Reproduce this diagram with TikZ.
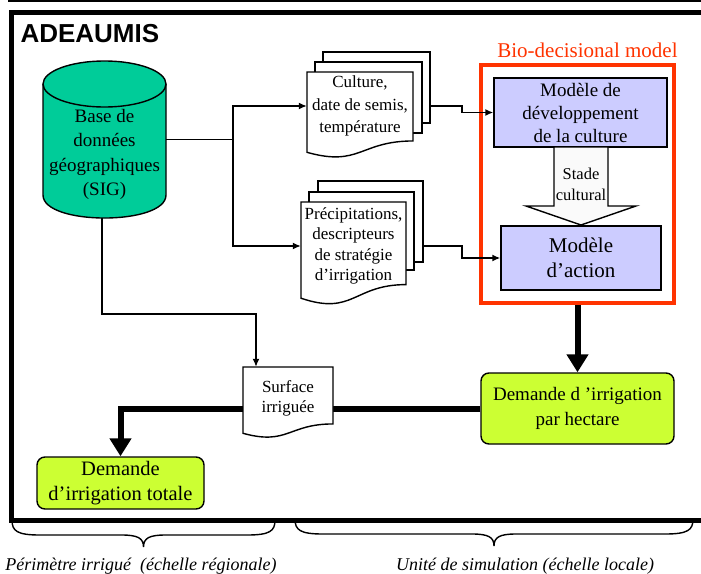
\documentclass[tikz,border=0pt]{standalone}
\usepackage{fontspec}
\setmainfont{Liberation Serif}
\setsansfont{Liberation Sans}
\usetikzlibrary{arrows.meta}
\definecolor{sigGreen}{HTML}{00CC99}
\definecolor{modelBlue}{HTML}{CCCCFF}
\definecolor{demandLime}{HTML}{CCFF33}
\definecolor{bioRed}{HTML}{FF3300}
\def\fs#1#2{\fontsize{#1}{#2}\selectfont}
% document sheet with wavy bottom: (x,y)(w,h)
\def\docpage(#1,#2)(#3,#4){\draw[fill=white, line width=1.4pt] (#1,#2) -- ({#1+#3},#2) -- ({#1+#3},{#2+0.802*#4}) .. controls ({#1+0.5*#3},{#2+0.802*#4}) and ({#1+0.5*#3},{#2+1.107*#4}) .. (#1,{#2+0.934*#4}) -- cycle;}
\def\sheet(#1,#2)(#3,#4){\draw[fill=white, line width=1.4pt] (#1,#2) rectangle (#3,#4);}
% wide brace under the frame: (left x, right x, top y)
\def\curlybrace(#1,#2,#3){\pgfmathsetmacro\bracemid{(#1+#2)/2}\draw[line width=1.4pt] (#1,#3) .. controls (#1,{#3+11}) and ({#1+5},{#3+15}) .. ({#1+28},{#3+15}) -- ({\bracemid-22},{#3+15}) .. controls ({\bracemid-6},{#3+15}) and (\bracemid,{#3+18}) .. (\bracemid,{#3+27}) .. controls (\bracemid,{#3+18}) and ({\bracemid+6},{#3+15}) .. ({\bracemid+22},{#3+15}) -- ({#2-28},{#3+15}) .. controls ({#2-5},{#3+15}) and (#2,{#3+11}) .. (#2,#3);}
\tikzset{
	model/.style={draw, fill=modelBlue, line width=1.4pt, align=center, inner sep=0pt},
	demand/.style={draw, fill=demandLime, line width=1.4pt, rounded corners=8pt, align=center, inner sep=0pt},
	doctext/.style={align=center, inner sep=0pt},
	conn/.style={line width=1.5pt, -{Latex[length=8pt,width=7pt]}},
	thickconn/.style={line width=6pt, -{Triangle[length=18pt,width=21pt]}},
}

\begin{document}
\begin{tikzpicture}[x=1pt, y=-1pt]
			%%%%% START %%%%%
			\useasboundingbox (0,0) rectangle (701,573);
			
			\draw[line width=1.5pt] (8,1) -- (705,1);
			\draw[line width=5pt] (705,12.5) -- (11,12.5) -- (11,520) -- (705,520);
			\node[anchor=west, font=\sffamily\bfseries\fs{26}{28}] (title) at (17,34) {ADEAUMIS};
			
			% SIG cylinder
			\draw[fill=sigGreen, line width=1.4pt] (43,84) -- (43,195) .. controls (43,225.7) and (166,225.7) .. (166,195) -- (166,84);
			\draw[fill=sigGreen, line width=1.4pt] (104.5,84) ellipse [x radius=61.5pt, y radius=23pt];
			\node[doctext, minimum width=123pt, minimum height=127pt, font=\fs{19}{24.5}] (sig) at (104.5,154.5) {Base de\\données\\géographiques\\(SIG)};
			
			% input sheets
			\sheet(323,52)(430,123)
			\sheet(315,62)(422,133)
			\docpage(307,72)(106,86)
			\node[doctext, minimum width=106pt, minimum height=60pt, font=\fs{17}{22.5}] (cult) at (360,106) {Culture,\\date de semis,\\température};
			
			\sheet(318,181)(423,262)
			\sheet(309,192)(414,270)
			\docpage(301,202)(105,103)
			\node[doctext, minimum width=105pt, minimum height=70pt, font=\fs{17}{20.5}] (prec) at (353.5,246) {Précipitations,\\descripteurs\\de stratégie\\d’irrigation};
			
			% bio-decisional model
			\node[draw=bioRed, line width=3.5pt, minimum width=193pt, minimum height=238pt] (bio) at (577.5,184) {};
			\node[text=bioRed, font=\fs{21}{24}] (biolbl) at (587.5,50) {Bio-decisional model};
			\node[model, minimum width=173pt, minimum height=69pt, font=\fs{19}{23}] (dev) at (580.5,112.5) {Modèle de\\développement\\de la culture};
			\node[model, minimum width=160pt, minimum height=64pt, font=\fs{21}{25}] (act) at (581,258) {Modèle\\d’action};
			\draw[fill=black!2, line width=1.4pt] (554,147) -- (608,147) -- (608,206) -- (636,206) -- (581,225) -- (526,206) -- (554,206) -- cycle;
			\node[doctext, font=\fs{16.5}{21}] (stade) at (581,184) {Stade\\cultural};
			
			% demands
			\node[demand, minimum width=193pt, minimum height=71pt, font=\fs{19}{25}] (dh) at (577.5,408.5) {Demande d ’irrigation\\par hectare};
			\node[demand, minimum width=167pt, minimum height=52pt, font=\fs{20.5}{25}] (dt) at (120.5,483) {Demande\\d’irrigation totale};
			
			\draw[thickconn] (bio.south) -- (dh.north);
			\draw[thickconn] (dh.west) -| (dt.north);
			
			\docpage(243,367)(90,71)
			\node[doctext, minimum width=90pt, minimum height=62pt, font=\fs{17}{20}] (surf) at (288,398) {Surface\\irriguée};
			
			% thin connectors
			\draw[conn] ([yshift=15pt]sig.east) -- ++(67,0) coordinate (fork) |- (cult.west);
			\draw[conn] (fork) |- (prec.west);
			\draw[conn] ([xshift=17pt]cult.east) -- ++(32,0) |- (dev.west);
			\draw[conn] ([xshift=17pt]prec.east) -- ++(39,0) |- (act.west);
			\draw[conn] ([xshift=-2.5pt]sig.south) -- ++(0,96) -| ([xshift=-32pt]surf.north);
			
			% scales
			\curlybrace(12,275,520)
			\curlybrace(295,693,519)
			\node[font=\itshape\fs{18}{20}] (perim) at (141,566) {Périmètre irrigué \ (échelle régionale)};
			\node[font=\itshape\fs{18}{20}] (unite) at (525,566) {Unité de simulation (échelle locale)};
			%%%%% END %%%%%
\end{tikzpicture}
\end{document}
